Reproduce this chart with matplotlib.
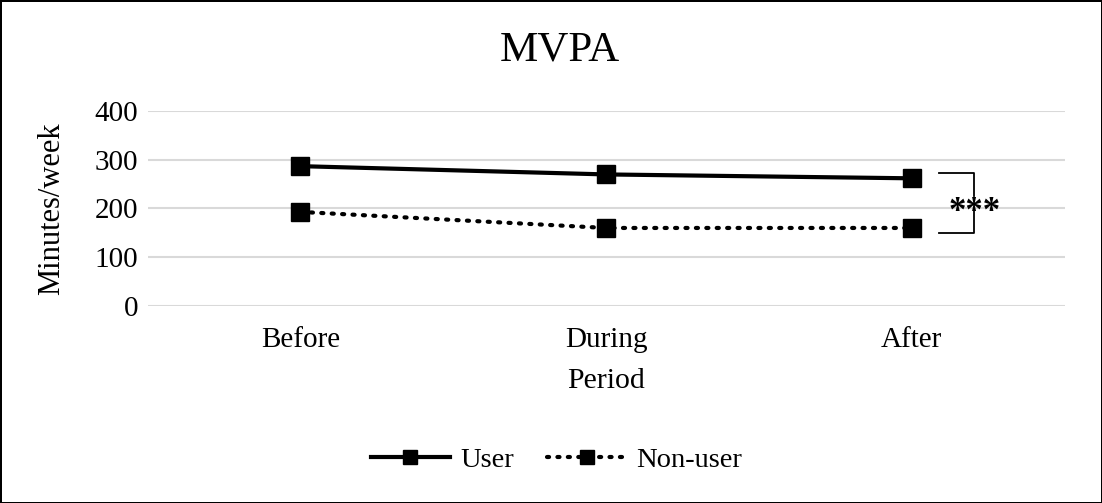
import numpy as np
import matplotlib.pyplot as plt

plt.rcParams['font.family'] = ['Liberation Serif', 'DejaVu Serif']

periods = ['Before', 'During', 'After']
user = [287, 270, 262]
non_user = [193, 160, 160]
y_ticks = [0, 100, 200, 300, 400]

fig = plt.figure(figsize=(11.02, 5.03), dpi=100, facecolor='white',
                 edgecolor='black', linewidth=2)
ax = fig.add_axes([0.134, 0.392, 0.832, 0.387])

x = np.arange(len(periods))
ax.plot(x, user, color='black', lw=3, marker='s', ms=13, label='User')
ax.plot(x, non_user, color='black', lw=3, linestyle=(0, (0.5, 2.0)),
        dash_capstyle='round', marker='s', ms=13, label='Non-user')

ax.set_xlim(-0.5, 2.5)
ax.set_ylim(0, 400)
ax.set_yticks(y_ticks)
ax.set_xticks(x)
ax.set_xticklabels(periods)
ax.tick_params(length=0, labelsize=21, pad=7)
ax.tick_params(axis='x', pad=15)
ax.grid(axis='y', color='#d9d9d9', lw=1.5)
ax.set_axisbelow(True)
for s in ax.spines.values():
    s.set_visible(False)

ax.set_xlabel('Period', fontsize=21.5, labelpad=11)
ax.set_ylabel('Minutes/week', fontsize=22, labelpad=20)
fig.text(0.508, 0.90, 'MVPA', fontsize=31, ha='center', va='center')

# significance bracket
xe = x[-1]
x0, x1 = xe + 0.09, xe + 0.205
yt, yb = user[-1] + 10, non_user[-1] - 10
ym = (yt + yb) / 2
ax.plot([x0, x1, x1], [yt, yt, ym + 14], color='black', lw=1.3, clip_on=False)
ax.plot([x0, x1, x1], [yb, yb, ym - 14], color='black', lw=1.3, clip_on=False)
ax.text(x1, ym - 19, '***', ha='center', va='center', fontsize=25,
        fontweight='bold', clip_on=False)

fig.legend(loc='center', bbox_to_anchor=(0.505, 0.085), ncol=2,
           frameon=False, fontsize=20.5, handlelength=2.8, columnspacing=1.15,
           handletextpad=0.35, markerscale=0.75)

fig.savefig('out.png', dpi=100, edgecolor=fig.get_edgecolor())
